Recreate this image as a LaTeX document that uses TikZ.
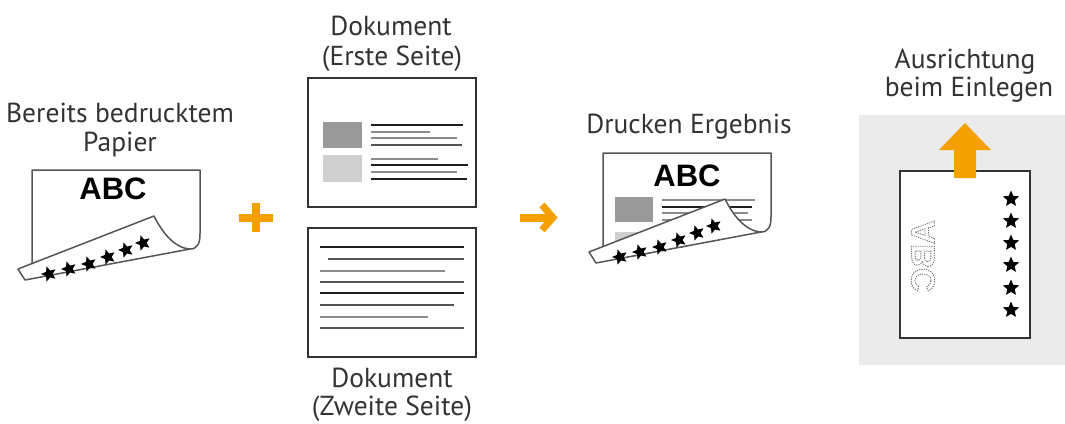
\documentclass[tikz,border=0pt]{standalone}
\usepackage{fontspec}
\setmainfont{PT Sans}
\newfontfamily\abcfont{Liberation Sans}
\usetikzlibrary{shapes.geometric}

\definecolor{accent}{HTML}{F4A000}
\definecolor{ink}{HTML}{333333}
\definecolor{edge}{HTML}{555555}
\definecolor{panel}{HTML}{EBEBEB}
\definecolor{blockdark}{HTML}{9A9A9A}
\definecolor{blocklight}{HTML}{CFCFCF}
\definecolor{rulegray}{HTML}{8C8C8C}
\definecolor{ruledark}{HTML}{555555}
\definecolor{ruleblack}{HTML}{1E1E1E}

% outlined, dotted glyphs (text render mode 1)
\newcommand\ghosttext[1]{\special{pdf:literal direct 1 Tr 0.9 w [1.2 1.1] 0 d}#1\special{pdf:literal direct 0 Tr}}

\tikzset{
  caption/.style={inner sep=0pt, anchor=base, text=ink, font=\fontsize{27.5}{30}\selectfont},
  sheet/.style={draw=ink, line width=1.6pt, fill=white},
  pageline/.style={draw=edge, line width=1.5pt, line join=round},
  textrule/.style={line width=1.6pt},
  starmark/.style={star, star points=5, star point ratio=2.2, fill=black, draw=none, inner sep=0pt, minimum size=17pt},
  abc/.style={inner sep=0pt, text=black, font=\abcfont\bfseries\fontsize{31}{31}\selectfont},
  % sheet with its lower right corner peeled up: the page behind
  curlback/.pic={
    \path[fill=white] (0,0) -- (168,0) -- (168,64) .. controls (168,74) and (165,79) .. (158,79) -- (0,110) -- cycle;
    \draw[pageline] (0,94) -- (0,0) -- (168,0) -- (168,64) .. controls (168,74) and (165,79) .. (158,79);
  },
  % the peeled flap with the stars printed on its back
  curlflap/.pic={
    \draw[pageline, fill=white] (122,46) -- (-14,99) -- (-7,110) -- (158,79) .. controls (142,78) and (130,62) .. (122,46) -- cycle;
    \foreach \x/\y [count=\i] in {17/104,37/99,57/94,76/87,94/80,111/73}
      \node[starmark, minimum size=16pt, rotate=18] (st\i) at (\x,\y) {};
  },
}

\begin{document}
\begin{tikzpicture}[x=1pt,y=-1pt]
\useasboundingbox (0,0) rectangle (1065,423);

% ---------- captions ----------
\node[caption] (capA1) at (120,122) {Bereits bedrucktem};
\node[caption] (capA2) at (120,151) {Papier};
\node[caption] (capB1) at (391,35) {Dokument};
\node[caption] (capB2) at (392,65) {(Erste Seite)};
\node[caption] (capC1) at (392,387) {Dokument};
\node[caption] (capC2) at (392,415) {(Zweite Seite)};
\node[caption] (capD)  at (689,133) {Drucken Ergebnis};
\node[caption] (capE1) at (965,68) {Ausrichtung};
\node[caption] (capE2) at (969,96) {beim Einlegen};

% ---------- pre-printed paper ----------
\pic (preback) at (32,170) {curlback};
\node[abc] (abcA) at (113,189) {ABC};
\pic (preflap) at (32,170) {curlflap};

% ---------- plus ----------
\draw[accent, line width=8pt] (239,217.5) -- (273,217.5) (256,203) -- (256,232);

% ---------- first page of the document ----------
\draw[sheet] (308,78) rectangle (476,207);
\fill[blockdark] (323,122) rectangle (362,148);
\fill[blocklight] (323,155) rectangle (362,182);
\foreach \y/\e/\c in {125/463/ruleblack, 132/430/rulegray, 138/457/rulegray, 145/462/ruledark,
                      159/438/rulegray, 165/468/ruleblack, 172/457/rulegray, 179/467/ruleblack}
  \draw[textrule, \c] (371,\y) -- (\e,\y);

% ---------- second page of the document ----------
\draw[sheet] (308,228) rectangle (476,357);
\foreach \s/\y/\e/\c in {320/247/464/ruleblack, 328/259/464/ruledark, 320/271/445/rulegray, 320/282/464/ruledark,
                         320/293/464/ruleblack, 320/305/454/ruledark, 320/317/428/rulegray, 320/328/464/ruledark}
  \draw[textrule, \c] (\s,\y) -- (\e,\y);

% ---------- arrow ----------
\draw[accent, line width=8pt] (520,217.5) -- (551,217.5);
\draw[accent, line width=7pt, miter limit=10] (542,205) -- (553,217.5) -- (542,230);

% ---------- printed result ----------
\pic (resback) at (603,153) {curlback};
\begin{scope}
  % content stays on the visible part of the page
  \clip (603,153) -- (771,153) -- (771,217) -- (761,232) -- (603,263) -- cycle;
  \node[abc] (abcD) at (687,176) {ABC};
  \fill[blockdark] (615,197) rectangle (653,222);
  \fill[blocklight] (615,232) rectangle (653,257);
  \foreach \y/\e/\c in {200/755/rulegray, 207/752/ruleblack, 213/748/rulegray, 220/752/rulegray,
                        234/740/rulegray, 241/752/ruleblack, 247/745/rulegray, 254/752/ruleblack}
    \draw[textrule, \c] (662,\y) -- (\e,\y);
\end{scope}
\pic (resflap) at (603,153) {curlflap};

% ---------- loading orientation ----------
\fill[panel] (859,115) rectangle (1065,365);
\draw[sheet] (900,171) rectangle (1030,338);
\foreach \y [count=\i] in {199,221,243,265,288,310}
  \node[starmark] (ps\i) at (1011,\y) {};
\fill[accent] (965,123) -- (991,150) -- (976,150) -- (976,178) -- (954,178) -- (954,150) -- (939,150) -- cycle;
\begin{scope}
  \node[abc, text=black!55, rotate=-90, font=\abcfont\bfseries\fontsize{33}{33}\selectfont] (abcE) at (923,256)
    {\scalebox{1}[-1]{\ghosttext{ABC}}};
\end{scope}
\end{tikzpicture}
\end{document}
